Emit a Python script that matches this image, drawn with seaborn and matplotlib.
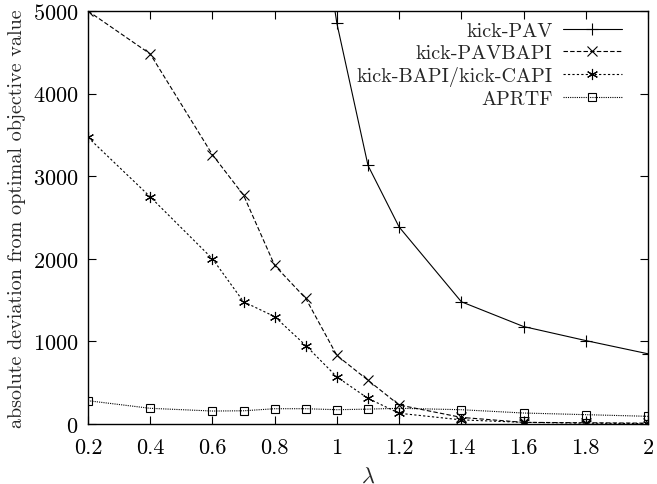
import matplotlib
matplotlib.use("Agg")
import matplotlib.pyplot as plt
import seaborn as sns
import pandas as pd

lam = [0.2, 0.4, 0.6, 0.7, 0.8, 0.9, 1.0, 1.1, 1.2, 1.4, 1.6, 1.8, 2.0]
lam_pav = [0.9, 1.0, 1.1, 1.2, 1.4, 1.6, 1.8, 2.0]
kick_pav = [7300, 4850, 3130, 2385, 1480, 1180, 1010, 850]
kick_pavbapi = [5000, 4480, 3260, 2770, 1920, 1520, 830, 530, 230, 80, 20, 15, 10]
kick_bapi = [3470, 2750, 2000, 1480, 1300, 950, 570, 310, 130, 50, 20, 10, 5]
aprtf = [282, 190, 157, 160, 185, 185, 173, 180, 190, 173, 133, 113, 93]

labels = ["kick-PAV", "kick-PAVBAPI", "kick-BAPI/kick-CAPI", "APRTF"]
xticks = [0.2, 0.4, 0.6, 0.8, 1, 1.2, 1.4, 1.6, 1.8, 2]
xticklabels = ["0.2", "0.4", "0.6", "0.8", "1", "1.2", "1.4", "1.6", "1.8", "2"]
yticks = [0, 1000, 2000, 3000, 4000, 5000]

sns.set_style("ticks")
plt.rcParams["font.family"] = ["cmr10", "DejaVu Serif"]
plt.rcParams["mathtext.fontset"] = "cm"
plt.rcParams["axes.formatter.use_mathtext"] = True

fig = plt.figure(figsize=(6.57, 4.85), dpi=100)
ax = fig.add_axes([88/657, 1-425/485, (648-88)/657, (425-12)/485])

series = [
    (lam_pav, kick_pav, "-", "+", 8, "full"),
    (lam, kick_pavbapi, (0, (4, 2)), "x", 7, "full"),
    (lam, kick_bapi, (0, (2, 2)), (6, 2, 0), 8, "full"),
    (lam, aprtf, (0, (1, 1)), "s", 6, "none"),
]
for (xs, ys, ls, mk, ms, fs), lab in zip(series, labels):
    df = pd.DataFrame({"lam": xs, "val": ys})
    sns.lineplot(data=df, x="lam", y="val", ax=ax, color="black", linestyle=ls,
                 marker=mk, markersize=ms, fillstyle=fs, markeredgewidth=0.8,
                 markeredgecolor="black", linewidth=0.8, label=lab, clip_on=True)

ax.set_xlim(0.2, 2.0)
ax.set_ylim(0, 5000)
ax.set_xticks(xticks)
ax.set_xticklabels(xticklabels)
ax.set_yticks(yticks)
ax.tick_params(direction="in", top=True, right=True, length=6, width=0.8,
               labelsize=16, pad=7, colors="black")
ax.tick_params(axis="x", pad=10)
for s in ax.spines.values():
    s.set_visible(True)
    s.set_linewidth(1.0)
    s.set_color("black")
ax.set_xlabel(r"$\lambda$", fontsize=16, labelpad=6)
ax.set_ylabel("absolute deviation from optimal objective value", fontsize=14.5, labelpad=5)

leg = ax.legend(loc="upper right", bbox_to_anchor=(1 - 14/560, 1 + 1/413),
                frameon=False, markerfirst=False, fontsize=14.5,
                handlelength=2.95, borderaxespad=0.2, labelspacing=0.2,
                handletextpad=0.5)

fig.savefig("out.png", dpi=100)
